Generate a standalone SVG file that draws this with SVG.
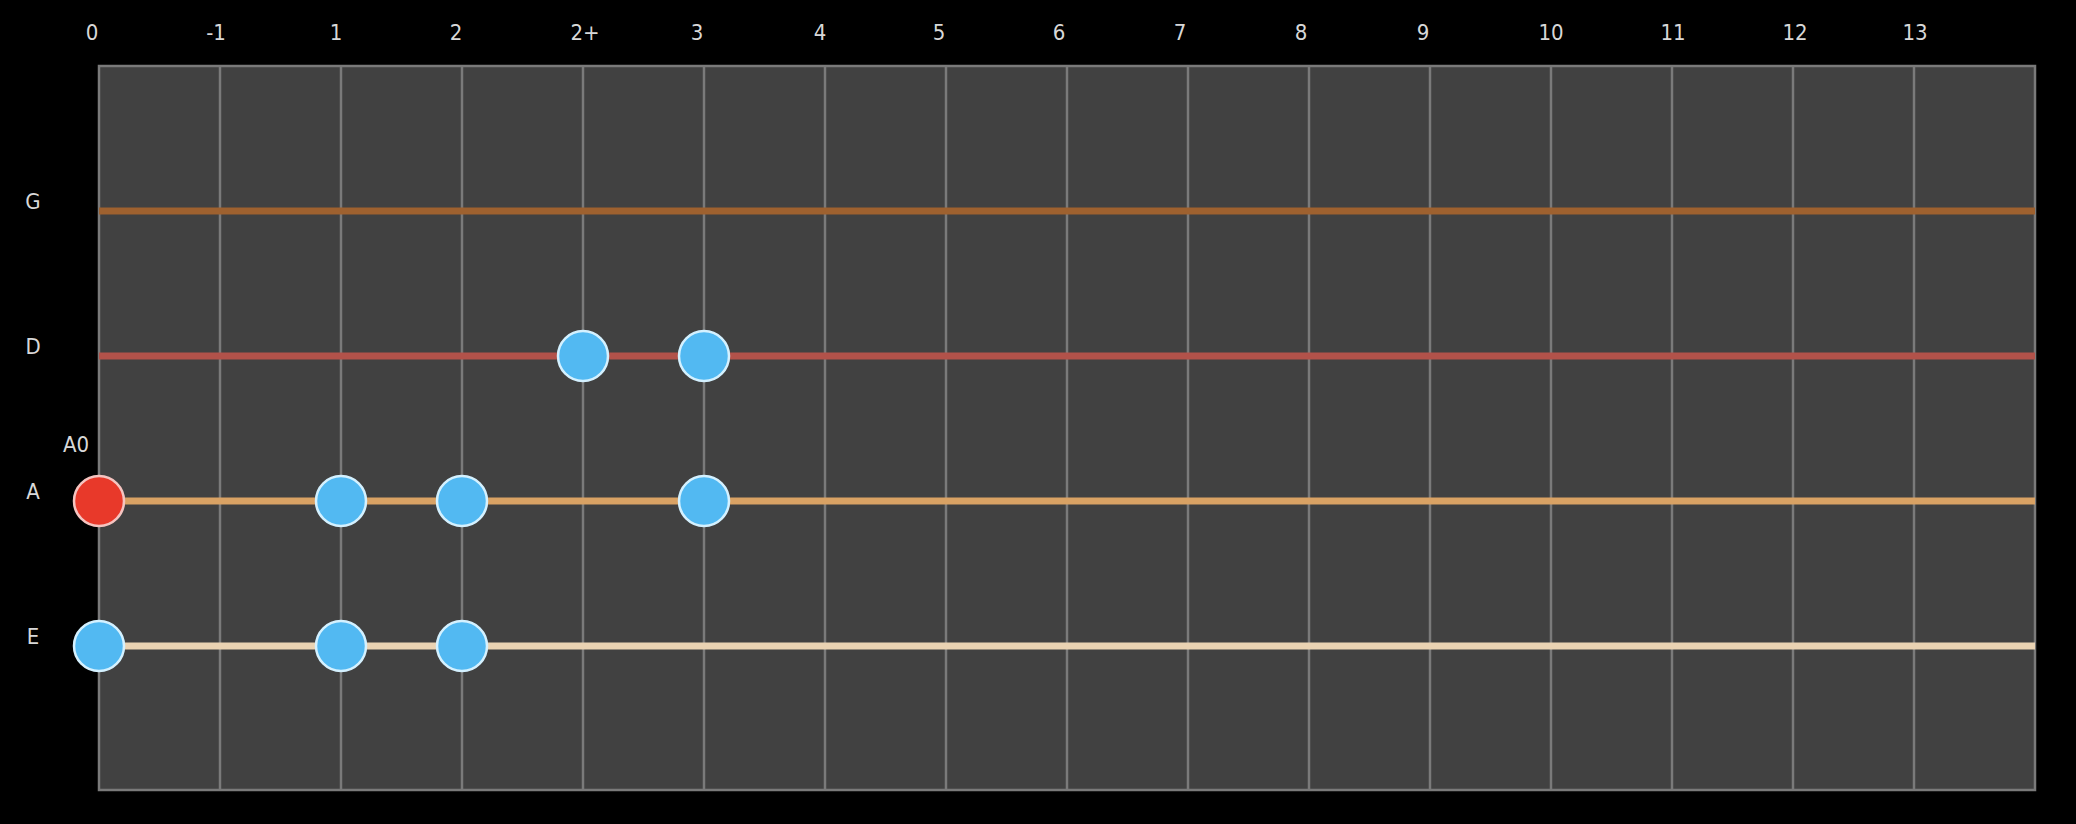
<svg xmlns="http://www.w3.org/2000/svg" width="2076" height="824" viewBox="0 0 2076 824">
<style>
.lbl{font-family:"DejaVu Sans Condensed","DejaVu Sans",sans-serif;font-stretch:condensed;font-size:22px;fill:#d8d8d8;text-anchor:middle}
.fret{stroke:#7a7a7a;stroke-width:2.5}
.str{stroke-width:7;fill:none}
.dot{fill:#52b9f2;stroke:#d4f1ff;stroke-width:2.5}
.root{fill:#e8392a;stroke:#f5c4c0;stroke-width:2.5}
</style>
<rect x="0" y="0" width="2076" height="824" fill="#000"/>
<g id="board">
<rect x="99" y="66" width="1936" height="724" fill="#414141" stroke="#7a7a7a" stroke-width="2.5"/>
</g>
<g id="frets">
<line class="fret" x1="220" y1="66" x2="220" y2="790"/>
<line class="fret" x1="341" y1="66" x2="341" y2="790"/>
<line class="fret" x1="462" y1="66" x2="462" y2="790"/>
<line class="fret" x1="583" y1="66" x2="583" y2="790"/>
<line class="fret" x1="704" y1="66" x2="704" y2="790"/>
<line class="fret" x1="825" y1="66" x2="825" y2="790"/>
<line class="fret" x1="946" y1="66" x2="946" y2="790"/>
<line class="fret" x1="1067" y1="66" x2="1067" y2="790"/>
<line class="fret" x1="1188" y1="66" x2="1188" y2="790"/>
<line class="fret" x1="1309" y1="66" x2="1309" y2="790"/>
<line class="fret" x1="1430" y1="66" x2="1430" y2="790"/>
<line class="fret" x1="1551" y1="66" x2="1551" y2="790"/>
<line class="fret" x1="1672" y1="66" x2="1672" y2="790"/>
<line class="fret" x1="1793" y1="66" x2="1793" y2="790"/>
<line class="fret" x1="1914" y1="66" x2="1914" y2="790"/>
</g>
<g id="fret-labels">
<text class="lbl" x="92" y="40">0</text>
<text class="lbl" x="216" y="40">-1</text>
<text class="lbl" x="336" y="40">1</text>
<text class="lbl" x="456" y="40">2</text>
<text class="lbl" x="585" y="40">2+</text>
<text class="lbl" x="697" y="40">3</text>
<text class="lbl" x="820" y="40">4</text>
<text class="lbl" x="939" y="40">5</text>
<text class="lbl" x="1059" y="40">6</text>
<text class="lbl" x="1180" y="40">7</text>
<text class="lbl" x="1301" y="40">8</text>
<text class="lbl" x="1423" y="40">9</text>
<text class="lbl" x="1551" y="40">10</text>
<text class="lbl" x="1673" y="40">11</text>
<text class="lbl" x="1795" y="40">12</text>
<text class="lbl" x="1915" y="40">13</text>
</g>
<g id="strings">
<line id="string-G" class="str" x1="99" y1="211" x2="2035" y2="211" stroke="#9e612f"/>
<line id="string-D" class="str" x1="99" y1="356" x2="2035" y2="356" stroke="#b2524a"/>
<line id="string-A" class="str" x1="99" y1="501" x2="2035" y2="501" stroke="#d9a264"/>
<line id="string-E" class="str" x1="99" y1="646" x2="2035" y2="646" stroke="#ead3b3"/>
</g>
<g id="string-labels">
<text class="lbl" x="33" y="209">G</text>
<text class="lbl" x="33" y="354">D</text>
<text class="lbl" x="33" y="499">A</text>
<text class="lbl" x="33" y="644">E</text>
</g>
<g id="notes-D">
<circle class="dot" cx="583" cy="356" r="25"/>
<circle class="dot" cx="704" cy="356" r="25"/>
</g>
<g id="notes-A">
<circle id="root-A0" class="root" cx="99" cy="501" r="25"/>
<circle class="dot" cx="341" cy="501" r="25"/>
<circle class="dot" cx="462" cy="501" r="25"/>
<circle class="dot" cx="704" cy="501" r="25"/>
</g>
<g id="notes-E">
<circle class="dot" cx="99" cy="646" r="25"/>
<circle class="dot" cx="341" cy="646" r="25"/>
<circle class="dot" cx="462" cy="646" r="25"/>
</g>
<g id="root-label">
<text class="lbl" x="76" y="452">A0</text>
</g>
</svg>
